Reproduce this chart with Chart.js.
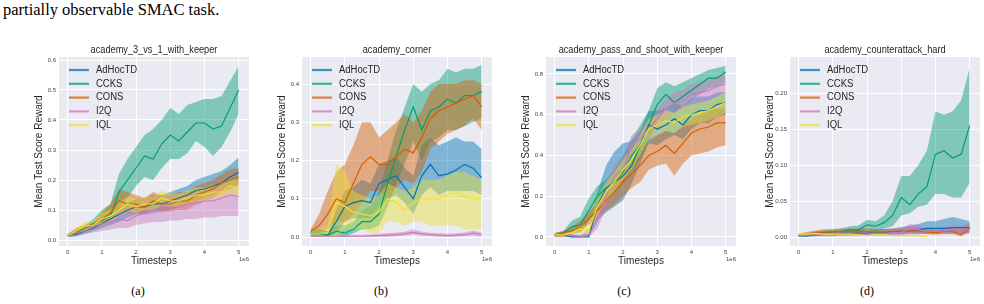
<!DOCTYPE html>
<html><head><meta charset="utf-8">
<script src="https://cdn.jsdelivr.net/npm/chart.js@4/dist/chart.umd.min.js"></script>
<style>
html,body{margin:0;padding:0;background:#fff;width:984px;height:304px;overflow:hidden;}
body{position:relative;}
.cap{position:absolute;font-family:"Liberation Serif","Times New Roman",serif;color:#000;white-space:nowrap;}
.sub{position:absolute;top:284px;width:40px;text-align:center;font-family:"Liberation Serif","Times New Roman",serif;font-size:12px;color:#000;}
canvas{position:absolute;}
</style></head><body>
<div class="cap" style="left:3px;top:0px;font-size:16.5px;">partially observable SMAC task.</div>
<div class="sub" style="left:118px;">(a)</div>
<div class="sub" style="left:361px;">(b)</div>
<div class="sub" style="left:604px;">(c)</div>
<div class="sub" style="left:847px;">(d)</div>
<canvas id="c0"></canvas><canvas id="c1"></canvas><canvas id="c2"></canvas><canvas id="c3"></canvas>
<script>
const timesteps = [0,0.25,0.5,0.75,1.0,1.25,1.5,1.75,2.0,2.25,2.5,2.75,3.0,3.25,3.5,3.75,4.0,4.25,4.5,4.75,5.0];
const seriesNames = ['AdHocTD','CCKS','CONS','I2Q','IQL'];
const seriesColors = ['#0173b2','#029e73','#d55e00','#cc78bc','#ece133'];
const xTickValues = [0,1,2,3,4,5];

// Panel (a) academy_3_vs_1_with_keeper
const A_AdHocTD = [0.015,0.02,0.03,0.04,0.055,0.07,0.085,0.10,0.11,0.11,0.12,0.12,0.13,0.14,0.15,0.165,0.17,0.18,0.19,0.21,0.225];
const A_AdHocTD_lo = [0.01,0.012,0.02,0.03,0.04,0.05,0.06,0.075,0.085,0.085,0.09,0.095,0.10,0.11,0.12,0.13,0.14,0.15,0.16,0.17,0.19];
const A_AdHocTD_hi = [0.02,0.03,0.04,0.05,0.07,0.09,0.11,0.125,0.135,0.14,0.15,0.15,0.16,0.17,0.18,0.20,0.21,0.22,0.23,0.25,0.275];
const A_CCKS = [0.015,0.025,0.04,0.055,0.065,0.08,0.16,0.20,0.24,0.28,0.27,0.32,0.35,0.33,0.36,0.39,0.39,0.37,0.38,0.44,0.50];
const A_CCKS_lo = [0.01,0.015,0.03,0.035,0.05,0.06,0.10,0.14,0.18,0.21,0.20,0.24,0.27,0.27,0.29,0.33,0.31,0.28,0.31,0.36,0.42];
const A_CCKS_hi = [0.02,0.035,0.05,0.07,0.10,0.12,0.22,0.27,0.31,0.35,0.37,0.40,0.44,0.42,0.45,0.46,0.47,0.47,0.48,0.53,0.58];
const A_CONS = [0.015,0.03,0.04,0.05,0.07,0.09,0.13,0.12,0.12,0.11,0.13,0.12,0.12,0.13,0.13,0.15,0.16,0.17,0.19,0.20,0.21];
const A_CONS_lo = [0.01,0.02,0.03,0.04,0.05,0.065,0.09,0.09,0.09,0.085,0.10,0.095,0.095,0.10,0.10,0.12,0.13,0.14,0.16,0.17,0.18];
const A_CONS_hi = [0.02,0.04,0.05,0.06,0.09,0.12,0.17,0.16,0.15,0.14,0.16,0.15,0.15,0.16,0.16,0.18,0.19,0.20,0.22,0.235,0.24];
const A_I2Q = [0.015,0.025,0.03,0.045,0.055,0.06,0.07,0.065,0.08,0.09,0.10,0.11,0.11,0.11,0.12,0.12,0.13,0.13,0.14,0.15,0.145];
const A_I2Q_lo = [0.01,0.015,0.02,0.025,0.03,0.035,0.04,0.04,0.05,0.055,0.06,0.06,0.065,0.065,0.07,0.07,0.075,0.075,0.08,0.08,0.08];
const A_I2Q_hi = [0.02,0.035,0.045,0.06,0.075,0.085,0.11,0.12,0.13,0.14,0.15,0.15,0.15,0.15,0.16,0.16,0.17,0.17,0.18,0.19,0.19];
const A_IQL = [0.015,0.03,0.045,0.05,0.07,0.08,0.10,0.12,0.11,0.12,0.12,0.14,0.13,0.13,0.14,0.15,0.15,0.16,0.16,0.18,0.17];
const A_IQL_lo = [0.01,0.02,0.03,0.035,0.05,0.06,0.08,0.095,0.09,0.10,0.10,0.115,0.11,0.11,0.12,0.13,0.13,0.14,0.14,0.155,0.145];
const A_IQL_hi = [0.02,0.04,0.06,0.065,0.09,0.10,0.125,0.145,0.135,0.145,0.145,0.165,0.155,0.155,0.165,0.175,0.175,0.185,0.185,0.205,0.20];
const A_yTicks = [0,0.1,0.2,0.3,0.4,0.5,0.6];

// Panel (b) academy_corner
const B_AdHocTD = [0.01,0.01,0.005,0.04,0.08,0.09,0.095,0.09,0.14,0.15,0.16,0.13,0.10,0.16,0.19,0.16,0.165,0.175,0.19,0.18,0.155];
const B_AdHocTD_lo = [0.0,0.0,0.0,0.01,0.04,0.05,0.05,0.05,0.08,0.10,0.11,0.09,0.06,0.11,0.13,0.11,0.12,0.12,0.12,0.12,0.11];
const B_AdHocTD_hi = [0.02,0.02,0.015,0.07,0.12,0.13,0.15,0.14,0.19,0.20,0.21,0.18,0.16,0.24,0.26,0.24,0.25,0.26,0.25,0.25,0.23];
const B_CCKS = [0.01,0.01,0.005,0.015,0.01,0.02,0.04,0.04,0.06,0.14,0.21,0.28,0.34,0.28,0.33,0.34,0.36,0.35,0.37,0.37,0.38];
const B_CCKS_lo = [0.0,0.0,0.0,0.005,0.0,0.01,0.02,0.02,0.03,0.08,0.14,0.19,0.25,0.20,0.25,0.26,0.28,0.28,0.29,0.30,0.31];
const B_CCKS_hi = [0.02,0.02,0.015,0.03,0.03,0.04,0.07,0.08,0.12,0.20,0.28,0.34,0.40,0.38,0.40,0.41,0.44,0.43,0.44,0.44,0.45];
const B_CONS = [0.015,0.03,0.06,0.10,0.09,0.14,0.19,0.21,0.19,0.19,0.21,0.23,0.22,0.26,0.31,0.33,0.34,0.35,0.36,0.37,0.34];
const B_CONS_lo = [0.01,0.01,0.02,0.04,0.04,0.06,0.09,0.12,0.12,0.10,0.13,0.15,0.14,0.17,0.23,0.25,0.27,0.28,0.29,0.31,0.28];
const B_CONS_hi = [0.02,0.06,0.12,0.17,0.19,0.24,0.30,0.30,0.26,0.28,0.30,0.32,0.30,0.33,0.38,0.40,0.40,0.40,0.41,0.41,0.40];
const B_I2Q = [0.003,0.003,0.002,0.002,0.002,0.002,0.002,0.003,0.004,0.005,0.006,0.008,0.012,0.008,0.006,0.005,0.004,0.005,0.006,0.01,0.006];
const B_I2Q_lo = [0,0,0,0,0,0,0,0,0,0.001,0.002,0.003,0.006,0.003,0.002,0.001,0,0.001,0.002,0.004,0.001];
const B_I2Q_hi = [0.007,0.007,0.006,0.006,0.006,0.006,0.006,0.007,0.009,0.01,0.012,0.014,0.02,0.014,0.011,0.01,0.009,0.01,0.012,0.017,0.012];
const B_IQL = [0.01,0.01,0.01,0.09,0.08,0.065,0.06,0.055,0.065,0.10,0.09,0.07,0.09,0.10,0.10,0.10,0.11,0.12,0.105,0.10,0.10];
const B_IQL_lo = [0.0,0.0,0.0,0.0,0.02,0.02,0.02,0.01,0.01,0.04,0.04,0.03,0.04,0.04,0.03,0.03,0.03,0.03,0.02,0.02,0.02];
const B_IQL_hi = [0.02,0.02,0.03,0.19,0.17,0.12,0.11,0.10,0.11,0.14,0.13,0.12,0.13,0.15,0.15,0.15,0.16,0.17,0.17,0.16,0.15];
const B_yTicks = [0,0.1,0.2,0.3,0.4];

// Panel (c) academy_pass_and_shoot_with_keeper
const C_AdHocTD = [0.01,0.01,0.0,0.0,0.0,0.15,0.24,0.27,0.30,0.35,0.45,0.55,0.53,0.55,0.58,0.55,0.60,0.62,0.62,0.65,0.66];
const C_AdHocTD_lo = [0.0,0.0,0.0,0.0,0.0,0.08,0.12,0.15,0.18,0.26,0.36,0.46,0.45,0.48,0.50,0.48,0.53,0.56,0.56,0.59,0.60];
const C_AdHocTD_hi = [0.02,0.02,0.01,0.01,0.02,0.22,0.35,0.42,0.46,0.47,0.52,0.62,0.62,0.63,0.66,0.64,0.68,0.69,0.69,0.71,0.71];
const C_CCKS = [0.01,0.02,0.05,0.06,0.13,0.20,0.24,0.27,0.32,0.40,0.45,0.55,0.65,0.70,0.66,0.69,0.72,0.75,0.78,0.78,0.81];
const C_CCKS_lo = [0.0,0.01,0.02,0.02,0.08,0.14,0.19,0.22,0.27,0.33,0.38,0.47,0.57,0.63,0.61,0.64,0.67,0.70,0.73,0.74,0.76];
const C_CCKS_hi = [0.02,0.03,0.08,0.10,0.19,0.25,0.28,0.33,0.40,0.48,0.55,0.62,0.73,0.76,0.74,0.76,0.78,0.80,0.82,0.83,0.84];
const C_CONS = [0.01,0.02,0.03,0.05,0.09,0.13,0.18,0.22,0.27,0.31,0.35,0.40,0.42,0.45,0.41,0.46,0.51,0.53,0.54,0.56,0.56];
const C_CONS_lo = [0.0,0.01,0.02,0.03,0.06,0.09,0.13,0.16,0.20,0.24,0.27,0.33,0.35,0.36,0.30,0.36,0.40,0.41,0.42,0.44,0.45];
const C_CONS_hi = [0.02,0.03,0.05,0.08,0.12,0.17,0.22,0.27,0.32,0.37,0.42,0.47,0.50,0.52,0.51,0.55,0.58,0.60,0.62,0.63,0.63];
const C_I2Q = [0.01,0.01,0.01,0.0,0.01,0.08,0.20,0.30,0.33,0.45,0.48,0.53,0.58,0.63,0.66,0.67,0.70,0.71,0.72,0.74,0.75];
const C_I2Q_lo = [0.0,0.0,0.0,0.0,0.0,0.04,0.14,0.24,0.28,0.40,0.43,0.48,0.53,0.58,0.61,0.62,0.65,0.66,0.67,0.69,0.70];
const C_I2Q_hi = [0.02,0.02,0.02,0.01,0.04,0.13,0.26,0.36,0.39,0.50,0.53,0.58,0.63,0.68,0.71,0.72,0.75,0.76,0.77,0.79,0.79];
const C_IQL = [0.01,0.01,0.02,0.04,0.03,0.15,0.22,0.27,0.33,0.38,0.45,0.53,0.55,0.57,0.56,0.59,0.60,0.61,0.62,0.64,0.66];
const C_IQL_lo = [0.0,0.0,0.01,0.02,0.01,0.10,0.17,0.22,0.28,0.33,0.40,0.48,0.50,0.52,0.51,0.54,0.55,0.56,0.57,0.59,0.61];
const C_IQL_hi = [0.02,0.02,0.03,0.06,0.05,0.20,0.27,0.32,0.38,0.43,0.50,0.58,0.60,0.62,0.61,0.64,0.65,0.66,0.67,0.69,0.71];
const C_yTicks = [0,0.2,0.4,0.6,0.8];

// Panel (d) academy_counterattack_hard
const D_AdHocTD = [0.002,0.002,0.003,0.004,0.004,0.005,0.005,0.005,0.005,0.006,0.006,0.007,0.008,0.009,0.01,0.012,0.012,0.012,0.013,0.013,0.013];
const D_AdHocTD_lo = [0.0,0.0,0.001,0.001,0.001,0.002,0.002,0.002,0.002,0.002,0.002,0.003,0.003,0.004,0.004,0.005,0.005,0.005,0.005,0.005,0.005];
const D_AdHocTD_hi = [0.004,0.004,0.005,0.007,0.007,0.008,0.009,0.009,0.009,0.01,0.011,0.012,0.014,0.016,0.018,0.022,0.022,0.025,0.028,0.025,0.022];
const D_CCKS = [0.002,0.003,0.005,0.006,0.007,0.008,0.01,0.01,0.017,0.015,0.02,0.03,0.055,0.045,0.06,0.07,0.115,0.12,0.11,0.115,0.155];
const D_CCKS_lo = [0.0,0.001,0.002,0.003,0.004,0.004,0.005,0.005,0.01,0.008,0.012,0.015,0.03,0.033,0.042,0.045,0.06,0.06,0.055,0.055,0.075];
const D_CCKS_hi = [0.004,0.005,0.008,0.009,0.01,0.012,0.015,0.016,0.024,0.022,0.03,0.05,0.085,0.085,0.10,0.12,0.175,0.17,0.175,0.19,0.235];
const D_CONS = [0.003,0.004,0.006,0.007,0.007,0.008,0.008,0.008,0.008,0.007,0.007,0.008,0.008,0.009,0.008,0.007,0.006,0.008,0.008,0.003,0.012];
const D_CONS_lo = [0.001,0.002,0.003,0.004,0.004,0.005,0.005,0.005,0.005,0.004,0.004,0.005,0.005,0.006,0.005,0.004,0.003,0.004,0.004,0.001,0.007];
const D_CONS_hi = [0.005,0.007,0.009,0.011,0.011,0.012,0.012,0.012,0.012,0.011,0.011,0.012,0.012,0.014,0.013,0.012,0.011,0.013,0.013,0.01,0.02];
const D_I2Q = [0.002,0.003,0.003,0.004,0.004,0.004,0.004,0.004,0.004,0.005,0.005,0.006,0.006,0.012,0.01,0.008,0.008,0.009,0.01,0.01,0.011];
const D_I2Q_lo = [0.0,0.001,0.001,0.002,0.002,0.002,0.002,0.002,0.002,0.002,0.002,0.003,0.003,0.006,0.005,0.004,0.004,0.005,0.005,0.005,0.006];
const D_I2Q_hi = [0.004,0.005,0.006,0.007,0.007,0.007,0.007,0.007,0.007,0.008,0.009,0.01,0.011,0.018,0.016,0.013,0.013,0.014,0.016,0.016,0.017];
const D_IQL = [0.004,0.004,0.005,0.004,0.004,0.004,0.004,0.003,0.002,0.003,0.003,0.002,0.002,0.002,0.002,0.001,null,null,null,null,null];
const D_IQL_lo = [0.003,0.003,0.004,0.003,0.003,0.003,0.003,0.002,0.001,0.002,0.002,0.001,0.001,0.001,0.001,0.0,null,null,null,null,null];
const D_IQL_hi = [0.005,0.005,0.006,0.005,0.005,0.005,0.005,0.004,0.003,0.004,0.004,0.003,0.003,0.003,0.003,0.002,null,null,null,null,null];
const D_yTicks = [0,0.05,0.10,0.15,0.20];

const panelTitles = ['academy_3_vs_1_with_keeper','academy_corner','academy_pass_and_shoot_with_keeper','academy_counterattack_hard'];

const panels = [
  {title:panelTitles[0], mean:[A_AdHocTD,A_CCKS,A_CONS,A_I2Q,A_IQL], lo:[A_AdHocTD_lo,A_CCKS_lo,A_CONS_lo,A_I2Q_lo,A_IQL_lo], hi:[A_AdHocTD_hi,A_CCKS_hi,A_CONS_hi,A_I2Q_hi,A_IQL_hi], yTicks:A_yTicks, dec:1, yMin:-0.02, yMax:0.61, left:59},
  {title:panelTitles[1], mean:[B_AdHocTD,B_CCKS,B_CONS,B_I2Q,B_IQL], lo:[B_AdHocTD_lo,B_CCKS_lo,B_CONS_lo,B_I2Q_lo,B_IQL_lo], hi:[B_AdHocTD_hi,B_CCKS_hi,B_CONS_hi,B_I2Q_hi,B_IQL_hi], yTicks:B_yTicks, dec:1, yMin:-0.0235, yMax:0.4706, left:302},
  {title:panelTitles[2], mean:[C_AdHocTD,C_CCKS,C_CONS,C_I2Q,C_IQL], lo:[C_AdHocTD_lo,C_CCKS_lo,C_CONS_lo,C_I2Q_lo,C_IQL_lo], hi:[C_AdHocTD_hi,C_CCKS_hi,C_CONS_hi,C_I2Q_hi,C_IQL_hi], yTicks:C_yTicks, dec:1, yMin:-0.0442, yMax:0.8834, left:546},
  {title:panelTitles[3], mean:[D_AdHocTD,D_CCKS,D_CONS,D_I2Q,D_IQL], lo:[D_AdHocTD_lo,D_CCKS_lo,D_CONS_lo,D_I2Q_lo,D_IQL_lo], hi:[D_AdHocTD_hi,D_CCKS_hi,D_CONS_hi,D_I2Q_hi,D_IQL_hi], yTicks:D_yTicks, dec:2, yMin:-0.0125, yMax:0.2504, left:790}
];

const FONT = '"Liberation Sans", Arial, sans-serif';
const PLOT_W = 190, Y_AXIS_W = 26, PAD_R = 4, CAN_TOP = 38, PAD_T = 19, X_AXIS_H = 21, CAN_BOTTOM = 267;

function rgba(hex, a){
  const n = parseInt(hex.slice(1),16);
  return 'rgba('+((n>>16)&255)+','+((n>>8)&255)+','+(n&255)+','+a+')';
}
function pts(arr){ return timesteps.map((t,k)=>({x:t, y:arr[k]})); }

function squeezedText(ctx, text, x, y, sx){
  ctx.save(); ctx.translate(x, y); ctx.scale(sx, 1); ctx.fillText(text, 0, 0); ctx.restore();
}

const decoPlugin = {
  id:'deco',
  beforeDraw(chart){
    const a = chart.chartArea, ctx = chart.ctx;
    ctx.save(); ctx.fillStyle = '#eaeaf2'; ctx.fillRect(a.left, a.top, a.right-a.left, a.bottom-a.top); ctx.restore();
  },
  afterDraw(chart){
    const a = chart.chartArea, ctx = chart.ctx, o = chart.options.plugins.deco;
    ctx.save();
    ctx.fillStyle = '#262626'; ctx.textAlign = 'center'; ctx.textBaseline = 'middle';
    ctx.font = '10px ' + FONT;
    squeezedText(ctx, o.title, (a.left+a.right)/2, a.top - 7, 0.92);
    // offset text
    ctx.font = '6px ' + FONT; ctx.fillStyle = '#444'; ctx.textAlign = 'right';
    ctx.fillText('1e6', a.right, a.bottom + 13);
    // legend
    ctx.textAlign = 'left'; ctx.font = '10px ' + FONT;
    seriesNames.forEach((name, i) => {
      const y = a.top + 13 + i*13.8;
      ctx.strokeStyle = rgba(seriesColors[i], 0.75); ctx.lineWidth = 2.2;
      ctx.beginPath(); ctx.moveTo(a.left+10, y); ctx.lineTo(a.left+30, y); ctx.stroke();
      ctx.fillStyle = '#262626';
      squeezedText(ctx, name, a.left+37, y, 0.95);
    });
    ctx.restore();
  }
};

panels.forEach((p, idx) => {
  const cv = document.getElementById('c'+idx);
  const cl = p.left - Y_AXIS_W;
  cv.width = Y_AXIS_W + PLOT_W + PAD_R; cv.height = CAN_BOTTOM - CAN_TOP;
  cv.style.left = cl + 'px'; cv.style.top = CAN_TOP + 'px';
  cv.style.width = cv.width + 'px'; cv.style.height = cv.height + 'px';
  const datasets = [];
  seriesNames.forEach((name, i) => {
    datasets.push({label:name, data:pts(p.mean[i]), borderColor:seriesColors[i], borderWidth:1.2, pointRadius:0, fill:false, tension:0, order:4-i});
  });
  seriesNames.forEach((name, i) => {
    const hiIdx = datasets.length;
    datasets.push({label:name+' upper', data:pts(p.hi[i]), borderColor:'rgba(0,0,0,0)', borderWidth:0, pointRadius:0, backgroundColor:rgba(seriesColors[i],0.45), fill:{target:hiIdx+1}, tension:0, order:20-i});
    datasets.push({label:name+' lower', data:pts(p.lo[i]), borderColor:'rgba(0,0,0,0)', borderWidth:0, pointRadius:0, fill:false, tension:0, order:20-i});
  });
  new Chart(cv, {
    type:'line',
    data:{datasets},
    plugins:[decoPlugin],
    options:{
      responsive:false, animation:false, devicePixelRatio:1,
      layout:{padding:{left:0, right:PAD_R, top:PAD_T, bottom:0}},
      plugins:{legend:{display:false}, tooltip:{enabled:false}, title:{display:false},
        filler:{propagate:false, drawTime:'beforeDatasetsDraw'},
        deco:{title:p.title}},
      scales:{
        x:{type:'linear', min:-0.2525, max:5.3025,
          afterBuildTicks:s=>{ s.ticks = xTickValues.map(v=>({value:v})); },
          afterFit:s=>{ s.height = X_AXIS_H; },
          grid:{color:'#ffffff', lineWidth:1, drawTicks:false},
          border:{display:false},
          ticks:{autoSkip:false, maxRotation:0, padding:3, color:'#444', font:{family:FONT, size:6}, callback:v=>String(v)},
          title:{display:true, text:'Timesteps', color:'#262626', padding:0, font:{family:FONT, size:10}}
        },
        y:{type:'linear', min:p.yMin, max:p.yMax,
          afterBuildTicks:s=>{ s.ticks = p.yTicks.map(v=>({value:v})); },
          afterFit:s=>{ s.width = Y_AXIS_W; },
          grid:{color:'#ffffff', lineWidth:1, drawTicks:false},
          border:{display:false},
          ticks:{autoSkip:false, padding:3, color:'#444', font:{family:FONT, size:6}, callback:v=>Number(v).toFixed(p.dec)},
          title:{display:true, text:'Mean Test Score Reward', color:'#262626', padding:0, font:{family:FONT, size:10}}
        }
      }
    }
  });
});
</script>
</body></html>
